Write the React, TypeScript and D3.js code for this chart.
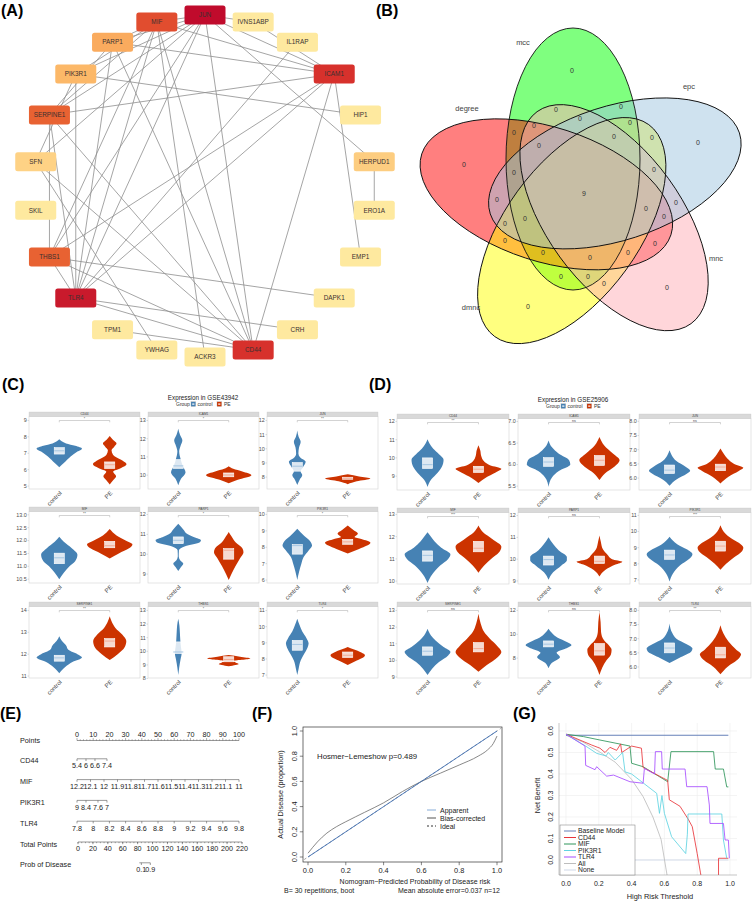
import React from 'react';
import * as d3 from 'd3';

const FONT = '"Liberation Sans", Arial, Helvetica, sans-serif';
type Pt = [number, number];

// ---------------- (A) PPI network ----------------
const ppiGenes = ['ACKR3', 'CD44', 'CRH', 'DAPK1', 'EMP1', 'ERO1A', 'HERPUD1', 'HIP1', 'ICAM1', 'IL1RAP', 'IVNS1ABP',
  'JUN', 'MIF', 'PARP1', 'PIK3R1', 'SERPINE1', 'SFN', 'SKIL', 'THBS1', 'TLR4', 'TPM1', 'YWHAG'];
const ppiScore = [2, 8.2, 2, 2, 2, 2, 3.2, 2, 8.2, 2, 2, 10, 7.3, 4.5, 4.1, 6.7, 3.0, 2, 6.7, 9.3, 2, 2];
const ppiEdges: [string, string][] = [
  ['JUN', 'MIF'], ['JUN', 'PARP1'], ['JUN', 'PIK3R1'], ['JUN', 'SERPINE1'], ['JUN', 'THBS1'], ['JUN', 'TLR4'],
  ['JUN', 'CD44'], ['JUN', 'ICAM1'], ['JUN', 'IVNS1ABP'], ['JUN', 'SFN'], ['JUN', 'HERPUD1'],
  ['MIF', 'PARP1'], ['MIF', 'PIK3R1'], ['MIF', 'SERPINE1'], ['MIF', 'TLR4'], ['MIF', 'CD44'], ['MIF', 'ICAM1'],
  ['MIF', 'THBS1'], ['MIF', 'ACKR3'],
  ['PARP1', 'ICAM1'], ['PARP1', 'CD44'], ['PARP1', 'TLR4'], ['PARP1', 'SERPINE1'],
  ['PIK3R1', 'HIP1'], ['PIK3R1', 'TLR4'], ['PIK3R1', 'SFN'],
  ['SERPINE1', 'ICAM1'], ['SERPINE1', 'THBS1'], ['SERPINE1', 'TLR4'], ['SERPINE1', 'CD44'],
  ['ICAM1', 'TLR4'], ['ICAM1', 'THBS1'], ['ICAM1', 'CD44'], ['ICAM1', 'EMP1'], ['ICAM1', 'IVNS1ABP'],
  ['IL1RAP', 'TLR4'], ['HERPUD1', 'ERO1A'], ['SFN', 'YWHAG'], ['SFN', 'CD44'],
  ['THBS1', 'DAPK1'], ['THBS1', 'TLR4'], ['THBS1', 'CD44'],
  ['TLR4', 'CD44'], ['TLR4', 'CRH'], ['TPM1', 'CD44'],
];

// ---------------- (B) Venn ----------------
const vennSets = ['mcc', 'epc', 'mnc', 'dmnc', 'degree'];
const vennFills = ['#00ff00', '#9fc6e0', '#ffadb5', '#ffff00', '#ff0000'];
const vennDrawOrder = [0, 4, 3, 2, 1];
const vennCounts = [0, 0, 0, 0, 0, 9, 0, 0, 0, 0, 0, 0, 0, 0, 0, 0, 0, 0, 0, 0, 0, 0, 0, 0, 0, 0, 0, 0, 0, 0, 0];
// label anchor points (layout)
const vennNameXY: Pt[] = [[523, 42], [689, 86], [716, 258], [471, 307], [467, 108]];
const vennCountXY: Pt[] = [[572, 70], [698, 142], [667, 287], [528, 306], [464, 164], [584, 193],
  [556, 109], [621, 106], [580, 118], [534, 125], [514, 132], [630, 122], [614, 136], [652, 137], [539, 145],
  [514, 172], [654, 169], [497, 199], [676, 202], [646, 208], [664, 216], [525, 218], [505, 223], [655, 243],
  [505, 240], [543, 252], [590, 257], [628, 252], [561, 276], [588, 276], [604, 283]];

// ---------------- (C)/(D) violins ----------------
const violinGenes = ['CD44', 'ICAM1', 'JUN', 'MIF', 'PARP1', 'PIK3R1', 'SERPINE1', 'THBS1', 'TLR4'];
const groups = ['control', 'PE'];

const gse43942Ctrl: Pt[][] = [
  [[6.15, 0], [6.4, 0.2], [6.8, 0.5], [7.1, 0.8], [7.28, 1.0], [7.45, 0.7], [7.6, 0.3], [7.85, 0]],
  [[9.45, 0], [9.8, 0.12], [10.15, 0.32], [10.5, 0.2], [10.9, 0.1], [11.3, 0.04], [11.6, 0.1], [11.9, 0.18], [12.2, 0.08], [12.55, 0]],
  [[7.44, 0], [7.8, 0.1], [8.14, 0.22], [8.4, 0.15], [8.7, 0.25], [9.08, 0.37], [9.4, 0.12], [9.67, 0.05], [10.1, 0.08], [10.49, 0.15], [10.85, 0.06], [11.3, 0]],
  [[10.5, 0], [10.75, 0.2], [11.0, 0.45], [11.2, 0.7], [11.45, 0.8], [11.7, 0.55], [11.95, 0.2], [12.15, 0]],
  [[9.15, 0], [9.35, 0.12], [9.53, 0.22], [9.7, 0.08], [9.9, 0.02], [10.2, 0.03], [10.4, 0.3], [10.6, 0.95], [10.7, 1.0], [10.85, 0.7], [11.05, 0.35], [11.2, 0.25], [11.53, 0]],
  [[6.0, 0], [6.5, 0.08], [7.0, 0.18], [7.4, 0.28], [7.8, 0.5], [8.1, 0.65], [8.4, 0.55], [8.7, 0.3], [9.13, 0]],
  [[11.13, 0], [11.4, 0.25], [11.65, 0.6], [11.85, 1.0], [12.0, 0.8], [12.2, 0.4], [12.4, 0.3], [12.6, 0.12], [12.82, 0]],
  [[8.26, 0], [8.8, 0.04], [9.4, 0.1], [9.9, 0.15], [10.3, 0.12], [10.8, 0.09], [11.4, 0.07], [11.9, 0.05], [12.39, 0]],
  [[7.0, 0], [7.4, 0.06], [7.9, 0.15], [8.3, 0.3], [8.7, 0.45], [8.95, 0.5], [9.3, 0.4], [9.7, 0.22], [10.1, 0.1], [10.49, 0]],
];
const gse43942PE: Pt[][] = [
  [[5.1, 0], [5.35, 0.15], [5.6, 0.28], [5.87, 0.15], [6.1, 0.5], [6.33, 0.74], [6.6, 0.5], [6.9, 0.15], [7.18, 0.08], [7.4, 0.2], [7.59, 0.3], [7.8, 0.15], [8.05, 0]],
  [[9.55, 0], [9.75, 0.4], [10.0, 1.0], [10.2, 0.6], [10.35, 0.2], [10.49, 0]],
  [[7.5, 0], [7.7, 0.4], [7.9, 1.0], [8.05, 0.5], [8.2, 0]],
  [[11.3, 0], [11.5, 0.4], [11.7, 0.85], [11.85, 1.0], [12.0, 0.7], [12.2, 0.3], [12.45, 0]],
  [[8.7, 0], [9.0, 0.12], [9.4, 0.3], [9.8, 0.5], [10.1, 0.65], [10.3, 0.6], [10.6, 0.3], [10.9, 0.12], [11.12, 0]],
  [[7.62, 0], [7.9, 0.5], [8.1, 0.85], [8.28, 1.0], [8.5, 0.6], [8.63, 0.3], [8.83, 0.45], [9.05, 0.25], [9.33, 0]],
  [[11.73, 0], [12.0, 0.35], [12.3, 0.65], [12.6, 0.73], [12.9, 0.55], [13.2, 0.25], [13.5, 0.08], [13.73, 0]],
  [[8.9, 0], [9.06, 0.44], [9.18, 0.3], [9.28, 0.2], [9.47, 0.95], [9.6, 0.5], [9.72, 0]],
  [[7.62, 0], [7.9, 0.4], [8.1, 0.7], [8.23, 0.76], [8.4, 0.6], [8.6, 0.25], [8.74, 0]],
];
const gse43942BoxCtrl = [[6.95, 7.15, 7.34], [10.37, 10.51, 10.86], [8.42, 8.77, 9.03], [11.1, 11.33, 11.51], [10.53, 10.7, 10.87],
  [7.58, 8.1, 8.16], [11.68, 11.83, 11.95], [9.84, 9.95, 10.69], [8.54, 8.9, 9.15]];
const gse43942BoxPE = [[6.07, 6.3, 6.47], [9.91, 10.01, 10.12], [7.85, 7.92, 7.99], [11.72, 11.8, 11.97], [9.75, 10.2, 10.28],
  [8.18, 8.33, 8.48], [12.33, 12.6, 12.71], [9.23, 9.4, 9.6], [8.09, 8.23, 8.43]];
const gse43942Sig = ['*', '*', '**', '**', '*', '*', '**', '*', '*'];
const gse43942Range: Pt[] = [[4.82, 9.24], [9.24, 13.22], [7.16, 12.28], [10.35, 13.13], [8.55, 12.15], [5.82, 10.18],
  [10.91, 14.18], [8.04, 13.29], [6.82, 11.25]];
const gse43942Ticks = [[5, 6, 7, 8, 9], [10, 11, 12, 13], [8, 9, 10, 11, 12], [10.5, 11, 11.5, 12, 12.5, 13], [9, 10, 11, 12],
  [6, 7, 8, 9, 10], [11, 12, 13, 14], [8, 9, 10, 11, 12, 13], [7, 8, 9, 10, 11]];

const gse25906Ctrl: Pt[][] = [
  [[8.41, 0], [8.8, 0.15], [9.2, 0.45], [9.5, 0.62], [9.9, 0.7], [10.2, 0.5], [10.5, 0.25], [10.8, 0.08], [11.02, 0]],
  [[5.48, 0], [5.7, 0.15], [5.85, 0.45], [6.0, 0.95], [6.1, 0.9], [6.25, 0.45], [6.4, 0.15], [6.56, 0]],
  [[5.73, 0], [5.95, 0.3], [6.15, 0.75], [6.26, 0.9], [6.4, 0.7], [6.6, 0.3], [6.8, 0.1], [6.98, 0]],
  [[9.92, 0], [10.3, 0.2], [10.7, 0.55], [11.0, 0.9], [11.2, 1.0], [11.5, 0.6], [11.8, 0.3], [12.0, 0.15], [12.2, 0]],
  [[9.05, 0], [9.4, 0.2], [9.7, 0.55], [9.95, 0.8], [10.1, 0.8], [10.4, 0.45], [10.7, 0.2], [11.01, 0]],
  [[6.91, 0], [7.4, 0.15], [7.9, 0.45], [8.3, 0.85], [8.6, 1.0], [8.9, 0.75], [9.2, 0.35], [9.67, 0]],
  [[9.12, 0], [9.5, 0.2], [9.9, 0.5], [10.3, 0.9], [10.5, 1.0], [10.8, 0.7], [11.2, 0.35], [11.5, 0.15], [11.9, 0]],
  [[7.14, 0], [7.6, 0.15], [8.1, 0.5], [8.45, 0.35], [8.8, 0.75], [9.1, 1.0], [9.35, 0.8], [9.7, 0.4], [10.1, 0.15], [10.47, 0]],
  [[6.14, 0], [6.35, 0.5], [6.55, 0.95], [6.65, 1.0], [6.8, 0.75], [7.0, 0.3], [7.2, 0.12], [7.54, 0]],
];
const gse25906PE: Pt[][] = [
  [[8.63, 0], [8.9, 0.3], [9.2, 0.75], [9.4, 1.0], [9.6, 0.5], [9.8, 0.25], [10.1, 0.12], [10.4, 0.08], [10.69, 0]],
  [[5.64, 0], [5.8, 0.25], [5.95, 0.65], [6.1, 0.88], [6.25, 0.6], [6.45, 0.2], [6.64, 0]],
  [[5.81, 0], [6.05, 0.35], [6.25, 0.8], [6.36, 1.0], [6.5, 0.6], [6.69, 0.3], [6.85, 0.15], [7.04, 0]],
  [[10.38, 0], [10.7, 0.25], [11.0, 0.55], [11.3, 0.9], [11.55, 1.0], [11.9, 0.6], [12.2, 0.2], [12.5, 0]],
  [[9.2, 0], [9.5, 0.25], [9.75, 0.7], [9.88, 1.0], [10.0, 0.55], [10.2, 0.35], [10.45, 0.15], [10.8, 0.06], [11.09, 0]],
  [[7.63, 0], [8.0, 0.25], [8.4, 0.6], [8.8, 0.95], [9.0, 1.0], [9.3, 0.8], [9.6, 0.45], [9.9, 0.2], [10.39, 0]],
  [[9.32, 0], [9.7, 0.35], [10.2, 0.85], [10.5, 1.0], [10.9, 0.8], [11.3, 0.5], [11.7, 0.25], [12.2, 0.1], [12.8, 0]],
  [[6.58, 0], [7.2, 0.12], [7.8, 0.3], [8.3, 0.5], [8.7, 0.53], [9.1, 0.4], [9.5, 0.2], [10.2, 0.07], [11.0, 0.05], [11.86, 0]],
  [[5.74, 0], [6.0, 0.3], [6.3, 0.8], [6.45, 0.9], [6.6, 0.7], [6.9, 0.35], [7.2, 0.12], [7.48, 0]],
];
const gse25906BoxCtrl = [[9.42, 9.63, 10.0], [5.96, 6.06, 6.16], [6.16, 6.28, 6.46], [10.9, 11.16, 11.36], [9.73, 9.98, 10.14],
  [8.28, 8.55, 8.85], [10.31, 10.55, 10.81], [8.94, 9.17, 9.44], [6.5, 6.67, 6.85]];
const gse25906BoxPE = [[9.2, 9.38, 9.54], [5.98, 6.1, 6.21], [6.26, 6.39, 6.49], [11.32, 11.48, 11.79], [9.8, 9.9, 10.14],
  [8.79, 9.1, 9.4], [10.51, 10.71, 11.07], [8.25, 8.61, 9.22], [6.32, 6.43, 6.7]];
const gse25906Sig = ['**', 'ns', 'ns', '***', 'ns', '***', 'ns', 'ns', '**'];
const gse25906Range: Pt[] = [[8.24, 12.16], [5.41, 7.07], [5.58, 8.1], [9.87, 13.09], [8.86, 12.14], [6.75, 11.18],
  [8.94, 13.24], [6.33, 12.33], [5.61, 8.14]];
const gse25906Ticks = [[9, 10, 11, 12], [5.5, 6.0, 6.5, 7.0], [6.0, 6.5, 7.0, 7.5, 8.0], [10, 11, 12, 13], [9, 10, 11, 12],
  [7, 8, 9, 10, 11], [9, 10, 11, 12, 13], [8, 10, 12], [6.0, 6.5, 7.0, 7.5, 8.0]];

// ---------------- (E) nomogram ----------------
const nomoRowNames = ['Points', 'CD44', 'MIF', 'PIK3R1', 'TLR4', 'Total Points', 'Prob of Disease'];
const nomoPointTicks = d3.range(0, 101, 10);
const nomoVarTicks = [
  [5.4, 6, 6.6, 7.4],
  [12.2, 12.1, 12, 11.9, 11.8, 11.7, 11.6, 11.5, 11.4, 11.3, 11.2, 11.1, 11],
  [9, 8.4, 7.6, 7],
  [7.8, 8, 8.2, 8.4, 8.6, 8.8, 9, 9.2, 9.4, 9.6, 9.8],
];
const nomoVarPoints: Pt[] = [[0, 18.5], [0, 100], [0, 18.5], [0, 100]];
const nomoTotalTicks = d3.range(0, 221, 20);
const nomoProbTicks = [0.1, 0.9];
const nomoProbTotal = [85, 97];

// ---------------- (F) calibration ----------------
const calApparent: Pt[] = [[0, 0], [0.2, 0.2], [0.4, 0.4], [0.6, 0.6], [0.8, 0.8], [1.0, 1.0]];
const calBias: Pt[] = [[0, 0.03], [0.05, 0.12], [0.1, 0.19], [0.15, 0.24], [0.2, 0.28], [0.3, 0.355], [0.4, 0.43],
  [0.5, 0.52], [0.6, 0.6], [0.7, 0.665], [0.8, 0.73], [0.9, 0.8], [0.95, 0.85], [0.98, 0.9], [1.0, 0.96]];
const calIdeal: Pt[] = [[-0.02, -0.02], [1.02, 1.02]];
const calTicks = [0, 0.2, 0.4, 0.6, 0.8, 1.0];
const calLegend = ['Apparent', 'Bias-corrected', 'Ideal'];

// ---------------- (G) decision curves ----------------
const dcaNames = ['Baseline Model', 'CD44', 'MIF', 'PIK3R1', 'TLR4', 'All', 'None'];
const dcaColors = ['#6680b8', '#e8353a', '#2e955a', '#5fd3e2', '#a64dff', '#bdbdbd', '#cfd8e8'];
const dcaBaseline: Pt[] = [[0, 0.58], [0.99, 0.58]];
const dcaCD44: Pt[] = [[0, 0.585], [0.156, 0.535], [0.207, 0.52], [0.238, 0.5], [0.268, 0.524], [0.309, 0.51], [0.333, 0.54],
  [0.34, 0.5], [0.4, 0.53], [0.46, 0.52], [0.47, 0.43], [0.62, 0.37], [0.63, 0.28], [0.695, 0.25], [0.745, 0.19],
  [0.77, 0.155], [0.8, 0.03], [0.82, -0.06], [0.83, -0.1]];
const dcaCD44Tail: Pt[] = [[0.93, -0.1], [0.93, 0.008], [0.99, 0.008]];
const dcaMIF: Pt[] = [[0, 0.585], [0.106, 0.574], [0.207, 0.558], [0.39, 0.53], [0.4, 0.45], [0.47, 0.434], [0.62, 0.364],
  [0.64, 0.504], [0.9, 0.504], [0.91, 0.423], [0.96, 0.423], [0.98, 0.34], [0.99, 0.34]];
const dcaPIK3R1: Pt[] = [[0, 0.585], [0.12, 0.53], [0.187, 0.496], [0.244, 0.484], [0.258, 0.5], [0.3, 0.465], [0.345, 0.5],
  [0.36, 0.41], [0.4, 0.4], [0.553, 0.31], [0.57, 0.217], [0.585, 0.3], [0.6, 0.217], [0.644, 0.108], [0.73, 0.03],
  [0.74, 0.12], [0.744, 0.214], [0.95, 0.214], [0.96, 0.093], [0.98, 0.008]];
const dcaTLR4: Pt[] = [[0, 0.585], [0.116, 0.53], [0.12, 0.44], [0.177, 0.42], [0.187, 0.434], [0.248, 0.39], [0.29, 0.395],
  [0.39, 0.364], [0.47, 0.357], [0.478, 0.426], [0.54, 0.4], [0.545, 0.504], [0.583, 0.504], [0.587, 0.423],
  [0.726, 0.423], [0.736, 0.341], [0.86, 0.341], [0.874, 0.256], [0.878, 0.17], [0.96, 0.17], [0.97, 0.093],
  [0.99, 0.093], [0.996, 0.008]];
const dcaAll: Pt[] = [[0, 0.58], [0.1, 0.55], [0.2, 0.505], [0.3, 0.455], [0.4, 0.375], [0.47, 0.295], [0.53, 0.2],
  [0.58, 0.095], [0.615, -0.065], [0.63, -0.12]];
const dcaNone: Pt[] = [[0, 0], [0.99, 0]];

// ===================================================================
function PanelA() {
  const cx = 205, cy = 186, r = 171, nw = 41, nh = 19;
  const angle = d3.scaleLinear().domain([0, ppiGenes.length]).range([Math.PI, -Math.PI]);
  const color = d3.scaleLinear<string>().domain([2, 4, 6, 8, 10])
    .range(['#fee99f', '#fdbb6b', '#ef7a35', '#da352c', '#c00b2c']).interpolate(d3.interpolateRgb);
  const pos = new Map<string, Pt>(ppiGenes.map((g, i) => {
    const a = angle(i);
    return [g, [cx + r * Math.sin(a), cy - r * Math.cos(a)]];
  }));
  return (
    <g>
      {ppiEdges.map(([a, b], i) => {
        const p = pos.get(a)!, q = pos.get(b)!;
        return <line key={i} x1={p[0]} y1={p[1]} x2={q[0]} y2={q[1]} stroke="#8e8e8e" strokeWidth={0.8} />;
      })}
      {ppiGenes.map((g, i) => {
        const p = pos.get(g)!;
        return (
          <g key={g}>
            <rect x={p[0] - nw / 2} y={p[1] - nh / 2} width={nw} height={nh} rx={2.5} fill={color(ppiScore[i])} />
            <text x={p[0]} y={p[1] + 2.3} textAnchor="middle" fontSize={6.4} fill="#3a3030">{g}</text>
          </g>
        );
      })}
    </g>
  );
}

function PanelB() {
  const C: Pt = [584, 195];
  const off: Pt = [-11, -36];
  const geo = (k: number) => {
    const t = (72 * k * Math.PI) / 180;
    const ex = C[0] + off[0] * Math.cos(t) - off[1] * Math.sin(t);
    const ey = C[1] + off[0] * Math.sin(t) + off[1] * Math.cos(t);
    return { ex, ey, tr: `rotate(${72 * k},${ex},${ey})` };
  };
  return (
    <g>
      {vennDrawOrder.map(k => {
        const { ex, ey, tr } = geo(k);
        return <ellipse key={k} cx={ex} cy={ey} rx={67} ry={131} transform={tr}
          fill={vennFills[k]} fillOpacity={0.5} stroke="none" />;
      })}
      {vennDrawOrder.map(k => {
        const { ex, ey, tr } = geo(k);
        return <ellipse key={'s' + k} cx={ex} cy={ey} rx={67} ry={131} transform={tr}
          fill="none" stroke="#111" strokeWidth={0.9} />;
      })}
      {vennCounts.map((c, i) => (
        <text key={i} x={vennCountXY[i][0]} y={vennCountXY[i][1] + 2.5} textAnchor="middle" fontSize={7} fill="#333">{c}</text>
      ))}
      {vennSets.map((s, i) => (
        <text key={s} x={vennNameXY[i][0]} y={vennNameXY[i][1] + 2.5} textAnchor="middle" fontSize={7.5} fill="#444">{s}</text>
      ))}
    </g>
  );
}

const ctrlColor = '#4682b4', peColor = '#cc3300';

function ViolinGrid(props: {
  title: string; titleX: number; colX: number[]; colW: number; rowTop: number[]; rowBottom: number[];
  ctrl: Pt[][]; pe: Pt[][]; boxC: number[][]; boxP: number[][]; sig: string[]; ranges: Pt[]; ticks: number[][];
}) {
  const { title, titleX, colX, colW, rowTop, rowBottom } = props;
  const stripH = 4.5;
  const legY = rowTop[0] - 6;
  return (
    <g>
      <text x={titleX} y={rowTop[0] - 12} textAnchor="middle" fontSize={6.3} fill="#222">{title}</text>
      <text x={titleX - 27} y={legY} fontSize={5} fill="#333">Group</text>
      {[0, 1].map(k => (
        <g key={k}>
          <rect x={titleX + (k ? 14 : -12)} y={legY - 4.2} width={4.6} height={4.6} fill={k ? peColor : ctrlColor} stroke="#999" strokeWidth={0.3} />
          <rect x={titleX + (k ? 15.2 : -10.8)} y={legY - 2.5} width={2.2} height={1.2} fill="#fff" />
          <text x={titleX + (k ? 21 : -5.5)} y={legY} fontSize={5} fill="#333">{groups[k]}</text>
        </g>
      ))}
      {violinGenes.map((g, i) => {
        const col = i % 3, row = Math.floor(i / 3);
        const x0 = colX[col], x1 = x0 + colW;
        const top = rowTop[row] + stripH, bot = rowBottom[row];
        const y = d3.scaleLinear().domain(props.ranges[i]).range([bot, top]);
        const xp = d3.scalePoint<string>().domain(groups).range([x0, x1]).padding(0.6);
        const step = xp.step();
        const hw = 0.45 * step, bw = 0.2 * step;
        const shapes = [props.ctrl[i], props.pe[i]];
        const boxes = [props.boxC[i], props.boxP[i]];
        const by = top + 4;
        const c1 = xp('control')!, c2 = xp('PE')!;
        return (
          <g key={g}>
            <rect x={x0} y={top} width={colW} height={bot - top} fill="#fff" stroke="#d3d3d3" strokeWidth={0.6} />
            <rect x={x0} y={rowTop[row]} width={colW} height={stripH} fill="#d9d9d9" stroke="#c4c4c4" strokeWidth={0.3} />
            <text x={(x0 + x1) / 2} y={rowTop[row] + 3.4} textAnchor="middle" fontSize={3.2} fill="#444">{g}</text>
            {props.ticks[i].map(t => (
              <g key={t}>
                <line x1={x0 - 1.5} x2={x0} y1={y(t)} y2={y(t)} stroke="#aaa" strokeWidth={0.4} />
                <text x={x0 - 2.2} y={y(t) + 1.9} textAnchor="end" fontSize={5.4} fill="#4d4d4d">
                  {Number.isInteger(t) && props.ticks[i].some(v => !Number.isInteger(v)) ? t.toFixed(1) : t}
                </text>
              </g>
            ))}
            {groups.map((grp, k) => {
              const cx = xp(grp)!;
              const area = d3.area<Pt>().y(d => y(d[0])).x0(d => cx - d[1] * hw).x1(d => cx + d[1] * hw)
                .curve(d3.curveMonotoneY);
              const [q1, md, q3] = boxes[k];
              return (
                <g key={grp}>
                  <path d={area(shapes[k]) || ''} fill={k ? peColor : ctrlColor} />
                  <rect x={cx - bw / 2} y={y(q3)} width={bw} height={y(q1) - y(q3)} fill="#fff" fillOpacity={0.82}
                    stroke="#fff" strokeWidth={0.6} />
                  <line x1={cx - bw / 2} x2={cx + bw / 2} y1={y(md)} y2={y(md)} stroke={k ? '#f2a68e' : '#9fc2e0'} strokeWidth={0.9} />
                  <text transform={`translate(${cx + 3},${bot + 4.5}) rotate(-45)`} textAnchor="end" fontSize={6}
                    fill="#4d4d4d">{grp}</text>
                </g>
              );
            })}
            <path d={`M${c1},${by + 1.8}V${by}H${c2}V${by + 1.8}`} fill="none" stroke="#a6a6a6" strokeWidth={0.5} />
            <text x={(c1 + c2) / 2} y={by - 0.3} textAnchor="middle" fontSize={3.6} fill="#444">{props.sig[i]}</text>
          </g>
        );
      })}
    </g>
  );
}

function PanelE() {
  const pts = d3.scaleLinear().domain([0, 100]).range([77, 239]);
  const total = d3.scaleLinear().domain([0, 220]).range([78, 242]);
  const rowY = (i: number) => 740 + i * 20.8;
  const fs = 7.2, ink = '#222', lc = '#555';
  const axisRow = (ri: number, xs: number[], labels: (string | number)[], x0: number, x1: number, minor?: number[]) => {
    const ly = rowY(ri) - 2;
    return (
      <g key={ri}>
        <line x1={x0} x2={x1} y1={ly} y2={ly} stroke={lc} strokeWidth={0.6} />
        {(minor || []).map((m, j) => <line key={'m' + j} x1={m} x2={m} y1={ly} y2={ly + 1.2} stroke={lc} strokeWidth={0.5} />)}
        {xs.map((x, j) => (
          <g key={j}>
            <line x1={x} x2={x} y1={ly} y2={ly + 2.2} stroke={lc} strokeWidth={0.6} />
            <text x={x} y={rowY(ri) + 7.3} textAnchor="middle" fontSize={fs} fill={ink}>{labels[j]}</text>
          </g>
        ))}
      </g>
    );
  };
  return (
    <g>
      {nomoRowNames.map((n, i) => (
        <text key={n} x={20} y={rowY(i) + 2.5} fontSize={fs} fill={ink}>{n}</text>
      ))}
      <line x1={pts(0)} x2={pts(100)} y1={rowY(0) + 0.5} y2={rowY(0) + 0.5} stroke={lc} strokeWidth={0.6} />
      {d3.range(0, 101, 2).map(t => (
        <line key={t} x1={pts(t)} x2={pts(t)} y1={rowY(0) + 0.5} y2={rowY(0) + 0.5 - (t % 10 === 0 ? 2.4 : 1.2)} stroke={lc} strokeWidth={0.5} />
      ))}
      {nomoPointTicks.map(t => (
        <text key={t} x={pts(t)} y={rowY(0) - 2.6} textAnchor="middle" fontSize={fs} fill={ink}>{t}</text>
      ))}
      {nomoVarTicks.map((ticks, vi) => {
        const s = d3.scaleLinear().domain([ticks[0], ticks[ticks.length - 1]])
          .range([pts(nomoVarPoints[vi][0]), pts(nomoVarPoints[vi][1])]);
        return axisRow(vi + 1, ticks.map(s), ticks, s(ticks[0]), s(ticks[ticks.length - 1]));
      })}
      {axisRow(5, nomoTotalTicks.map(total), nomoTotalTicks, total(0), total(220), d3.range(0, 221, 5).map(total))}
      {axisRow(6, nomoProbTotal.map(total), nomoProbTicks, total(nomoProbTotal[0]) - 2, total(nomoProbTotal[1]))}
    </g>
  );
}

function PanelF() {
  const x = d3.scaleLinear().domain([0, 1]).range([308, 497]);
  const y = d3.scaleLinear().domain([0, 1]).range([857, 731]);
  const line = d3.line<Pt>().x(d => x(d[0])).y(d => y(d[1])).curve(d3.curveMonotoneX);
  const box = { l: 303, r: 502, t: 727, b: 862 };
  const fs = 7.4, ink = '#222';
  const legColors = ['#86acd8', '#555', '#333'];
  return (
    <g>
      <line x1={x(calIdeal[0][0])} y1={y(calIdeal[0][1])} x2={x(calIdeal[1][0])} y2={y(calIdeal[1][1])}
        stroke="#777" strokeWidth={0.7} strokeDasharray="2.5,2.5" />
      <path d={line(calBias) || ''} fill="none" stroke="#6a6a6a" strokeWidth={0.8} />
      <path d={line(calApparent) || ''} fill="none" stroke="#3d6eb4" strokeWidth={0.9} />
      <rect x={box.l} y={box.t} width={box.r - box.l} height={box.b - box.t} fill="none" stroke="#333" strokeWidth={0.7} />
      {calTicks.map(t => (
        <g key={t}>
          <line x1={x(t)} x2={x(t)} y1={box.b} y2={box.b + 3.2} stroke="#333" strokeWidth={0.6} />
          <text x={x(t)} y={box.b + 10.5} textAnchor="middle" fontSize={fs} fill={ink}>{t.toFixed(1)}</text>
          <line x1={box.l - 3.2} x2={box.l} y1={y(t)} y2={y(t)} stroke="#333" strokeWidth={0.6} />
          <text transform={`translate(${box.l - 6},${y(t)}) rotate(-90)`} textAnchor="middle" fontSize={fs} fill={ink}>{t.toFixed(1)}</text>
        </g>
      ))}
      <text transform={`translate(283,${(box.t + box.b) / 2}) rotate(-90)`} textAnchor="middle" fontSize={7.3} fill={ink}>Actual Disease (proportion)</text>
      <text x={415} y={883.5} textAnchor="middle" fontSize={7} fill={ink}>Nomogram−Predicted Probability of Disease risk</text>
      <text x={284} y={892.5} fontSize={7} fill={ink}>B= 30 repetitions, boot</text>
      <text x={398} y={892.5} fontSize={7} fill={ink}>Mean absolute error=0.037 n=12</text>
      <text x={317} y={758.5} fontSize={7.8} fill={ink}>Hosmer−Lemeshow  p=0.489</text>
      {calLegend.map((n, i) => (
        <g key={n}>
          <line x1={427} x2={436} y1={810 + i * 8} y2={810 + i * 8} stroke={legColors[i]} strokeWidth={1}
            strokeDasharray={i === 2 ? '2,2' : undefined} />
          <text x={440} y={812.5 + i * 8} fontSize={7} fill={ink}>{n}</text>
        </g>
      ))}
    </g>
  );
}

function PanelG() {
  const x = d3.scaleLinear().domain([0, 1]).range([566, 730]);
  const y = d3.scaleLinear().domain([0, 0.6]).range([860, 731]);
  const line = d3.line<Pt>().x(d => x(d[0])).y(d => y(d[1]));
  const box = { l: 559, r: 737, t: 723, b: 875 };
  const fs = 7, ink = '#222';
  const curves: [Pt[], number][] = [[dcaNone, 6], [dcaAll, 5], [dcaBaseline, 0], [dcaMIF, 2], [dcaCD44, 1],
    [dcaCD44Tail, 1], [dcaPIK3R1, 3], [dcaTLR4, 4]];
  return (
    <g>
      <defs>
        <clipPath id="dcaClip"><rect x={box.l} y={box.t} width={box.r - box.l} height={box.b - box.t} /></clipPath>
      </defs>
      {d3.range(0, 1.01, 0.2).map(t => (
        <line key={'gx' + t} x1={x(t)} x2={x(t)} y1={box.t} y2={box.b} stroke="#ececec" strokeWidth={0.6} />
      ))}
      {d3.range(0, 0.61, 0.1).map(t => (
        <line key={'gy' + t} x1={box.l} x2={box.r} y1={y(t)} y2={y(t)} stroke="#ececec" strokeWidth={0.6} />
      ))}
      <g clipPath="url(#dcaClip)">
        {curves.map(([pts, ci], i) => (
          <path key={i} d={line(pts) || ''} fill="none" stroke={dcaColors[ci]} strokeWidth={ci === 0 ? 1.1 : 0.85} />
        ))}
      </g>
      <line x1={box.l} x2={box.l} y1={box.t} y2={box.b} stroke="#888" strokeWidth={0.5} />
      <line x1={box.l} x2={box.r} y1={box.b} y2={box.b} stroke="#888" strokeWidth={0.5} />
      {d3.range(0, 1.01, 0.2).map(t => (
        <text key={'x' + t} x={x(t)} y={886} textAnchor="middle" fontSize={fs} fill={ink}>{t.toFixed(1)}</text>
      ))}
      {d3.range(0, 0.61, 0.1).map(t => (
        <text key={'y' + t} transform={`translate(552.5,${y(t)}) rotate(-90)`} textAnchor="middle" fontSize={fs} fill={ink}>{t.toFixed(1)}</text>
      ))}
      <text transform={`translate(539.5,${y(0.3)}) rotate(-90)`} textAnchor="middle" fontSize={7.2} fill={ink}>Net Benefit</text>
      <text x={660} y={898.5} textAnchor="middle" fontSize={7.4} fill={ink}>High Risk Threshold</text>
      <rect x={560} y={825} width={75} height={50} fill="#fff" stroke="#777" strokeWidth={0.5} />
      {dcaNames.map((n, i) => {
        const ly = 831 + i * 6.5;
        return (
          <g key={n}>
            <line x1={564} x2={576} y1={ly} y2={ly} stroke={dcaColors[i]} strokeWidth={1} />
            <text x={578} y={ly + 2.4} fontSize={6.8} fill={ink}>{n}</text>
          </g>
        );
      })}
    </g>
  );
}

export default function App() {
  const letters: [string, number, number][] = [['(A)', 1, 16], ['(B)', 376, 16], ['(C)', 2, 390], ['(D)', 369, 390],
    ['(E)', 0, 719], ['(F)', 252, 719], ['(G)', 513, 719]];
  return (
    <svg width={753} height={901} viewBox="0 0 753 901" fontFamily={FONT}
      style={{ position: 'absolute', left: 0, top: 0, background: '#fff' }}>
      <rect width={753} height={901} fill="#fff" />
      <PanelA />
      <PanelB />
      <ViolinGrid title="Expression in GSE43942" titleX={203} colX={[29, 148, 267]} colW={111}
        rowTop={[412, 507, 602]} rowBottom={[489, 583, 678]} ctrl={gse43942Ctrl} pe={gse43942PE}
        boxC={gse43942BoxCtrl} boxP={gse43942BoxPE} sig={gse43942Sig} ranges={gse43942Range} ticks={gse43942Ticks} />
      <ViolinGrid title="Expression in GSE25906" titleX={573} colX={[397, 518, 639]} colW={112}
        rowTop={[414, 508, 602]} rowBottom={[490, 584, 678]} ctrl={gse25906Ctrl} pe={gse25906PE}
        boxC={gse25906BoxCtrl} boxP={gse25906BoxPE} sig={gse25906Sig} ranges={gse25906Range} ticks={gse25906Ticks} />
      <PanelE />
      <PanelF />
      <PanelG />
      {letters.map(([t, x, y]) => (
        <text key={t} x={x} y={y} fontSize={16} fontWeight="bold" fill="#000">{t}</text>
      ))}
    </svg>
  );
}
